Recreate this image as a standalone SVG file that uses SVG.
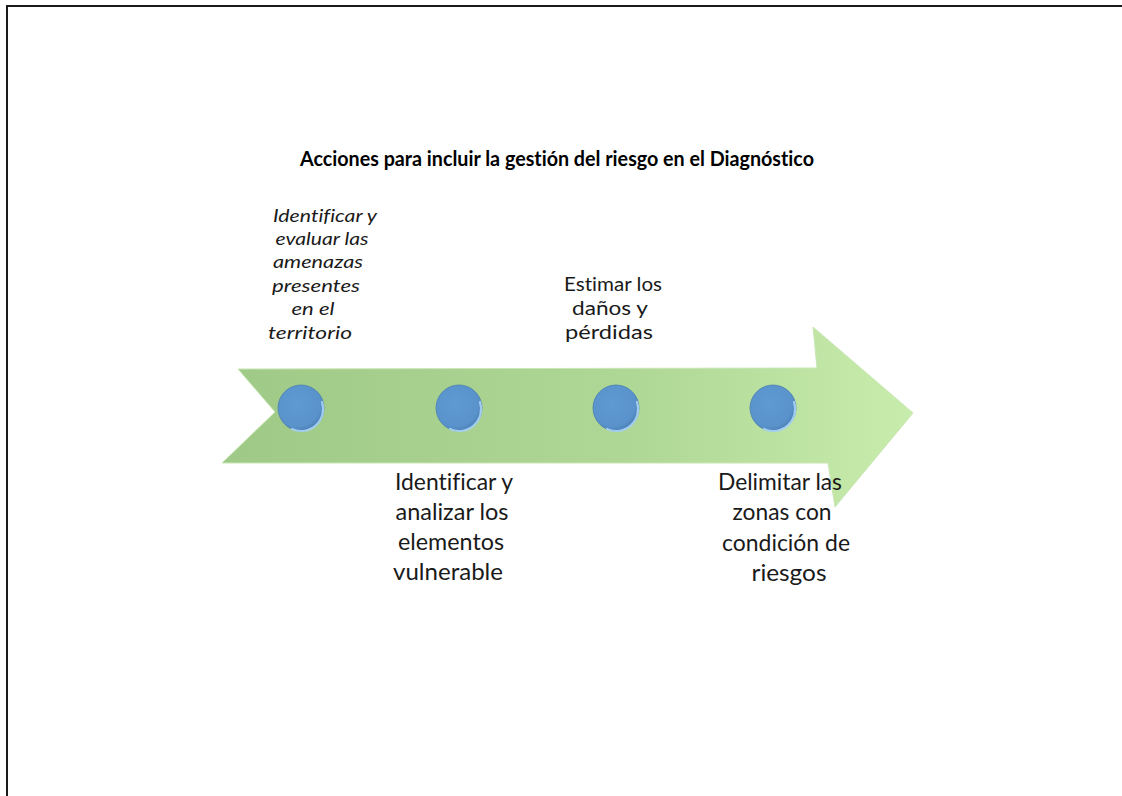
<svg xmlns="http://www.w3.org/2000/svg" width="1122" height="796" viewBox="0 0 1122 796">
  <defs>
    <linearGradient id="arrowFill" x1="0" y1="0" x2="1" y2="0">
      <stop offset="0" stop-color="#9fc987"/>
      <stop offset="0.6" stop-color="#afd796"/>
      <stop offset="1" stop-color="#c8ecab"/>
    </linearGradient>
    <radialGradient id="dotFill" cx="0.42" cy="0.4" r="0.62">
      <stop offset="0" stop-color="#5f9ad2"/>
      <stop offset="0.8" stop-color="#5a93cb"/>
      <stop offset="1" stop-color="#4a7fb6"/>
    </radialGradient>
    <style>
      .frame { fill: none; stroke: #1a1a1a; stroke-width: 2; }
      .title { font-family: Lato, "Open Sans", "Liberation Sans", sans-serif; font-weight: bold; font-size: 20px; fill: #000; font-variant-ligatures: none; }
      .lbl { font-family: Lato, "Open Sans", "Liberation Sans", sans-serif; fill: #1a1a1a; text-anchor: middle; font-variant-ligatures: none; }
      .it { font-style: italic; font-size: 17.5px; }
      .md { font-size: 19.5px; }
      .lg { font-size: 23px; }
      .dot { fill: url(#dotFill); stroke: #4a7db3; stroke-width: 0.8; }
      .rim { fill: none; stroke: #a9d3f5; stroke-width: 2.2; stroke-linecap: round; opacity: 0.9; }
    </style>
  </defs>
  <rect width="1122" height="796" fill="#ffffff"/>
  <path class="frame" d="M 7 800 V 6 H 1130"/>

  <text class="title" x="300" y="166" textLength="514" lengthAdjust="spacingAndGlyphs">Acciones para incluir la gestión del riesgo en el Diagnóstico</text>

  <g id="connectors">
    <polygon points="238,369 817,368 813,327 913,413 835,507 828,463 222,463 275,412" fill="url(#arrowFill)" stroke="#c9e6b5" stroke-width="1"/>
  </g>

  <g id="node1">
    <circle class="dot" cx="301" cy="408" r="23"/>
    <path class="rim" d="M 322 402 A 22 22 0 0 1 292 429"/>
    <text class="lbl it" x="325" y="222" textLength="104" lengthAdjust="spacingAndGlyphs">Identificar y</text>
    <text class="lbl it" x="322" y="245" textLength="93" lengthAdjust="spacingAndGlyphs">evaluar las</text>
    <text class="lbl it" x="318" y="268" textLength="90" lengthAdjust="spacingAndGlyphs">amenazas</text>
    <text class="lbl it" x="316" y="292" textLength="88" lengthAdjust="spacingAndGlyphs">presentes</text>
    <text class="lbl it" x="313" y="315" textLength="43" lengthAdjust="spacingAndGlyphs">en el</text>
    <text class="lbl it" x="310" y="339" textLength="84" lengthAdjust="spacingAndGlyphs">territorio</text>
  </g>

  <g id="node2">
    <circle class="dot" cx="459" cy="408" r="23"/>
    <path class="rim" d="M 480 402 A 22 22 0 0 1 450 429"/>
    <text class="lbl lg" x="454" y="490" textLength="118" lengthAdjust="spacingAndGlyphs">Identificar y</text>
    <text class="lbl lg" x="452" y="520" textLength="113" lengthAdjust="spacingAndGlyphs">analizar los</text>
    <text class="lbl lg" x="451" y="550" textLength="106" lengthAdjust="spacingAndGlyphs">elementos</text>
    <text class="lbl lg" x="448" y="580" textLength="110" lengthAdjust="spacingAndGlyphs">vulnerable</text>
  </g>

  <g id="node3">
    <circle class="dot" cx="616" cy="408" r="23"/>
    <path class="rim" d="M 637 402 A 22 22 0 0 1 607 429"/>
    <text class="lbl md" x="613" y="291" textLength="98" lengthAdjust="spacingAndGlyphs">Estimar los</text>
    <text class="lbl md" x="610" y="315" textLength="76" lengthAdjust="spacingAndGlyphs">daños y</text>
    <text class="lbl md" x="609" y="339" textLength="88" lengthAdjust="spacingAndGlyphs">pérdidas</text>
  </g>

  <g id="node4">
    <circle class="dot" cx="773" cy="408" r="23"/>
    <path class="rim" d="M 794 402 A 22 22 0 0 1 764 429"/>
    <text class="lbl lg" x="780" y="490" textLength="124" lengthAdjust="spacingAndGlyphs">Delimitar las</text>
    <text class="lbl lg" x="782" y="520" textLength="99" lengthAdjust="spacingAndGlyphs">zonas con</text>
    <text class="lbl lg" x="786" y="551" textLength="128" lengthAdjust="spacingAndGlyphs">condición de</text>
    <text class="lbl lg" x="789" y="581" textLength="75" lengthAdjust="spacingAndGlyphs">riesgos</text>
  </g>
</svg>
